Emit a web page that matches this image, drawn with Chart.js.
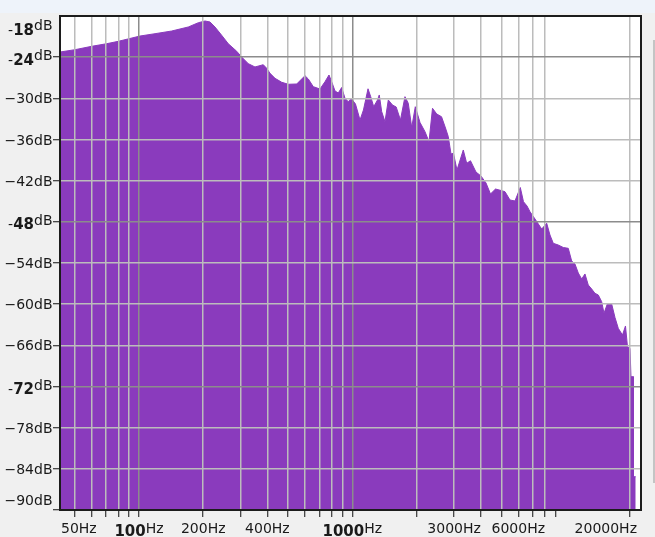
<!DOCTYPE html>
<html>
<head>
<meta charset="utf-8">
<script src="https://cdn.jsdelivr.net/npm/chart.js@4.4.1/dist/chart.umd.min.js"></script>
<style>
  html, body { margin: 0; padding: 0; background: #f0f0f0; }
  .wrap { position: relative; width: 655px; height: 537px; overflow: hidden; }
  .titlebar { position: absolute; left: 0; top: 0; width: 655px; height: 13px; background: #eef3fa; }
  .scroll { position: absolute; left: 653px; top: 40px; width: 2px; height: 443px; background: #c4c4c4; }
  canvas { position: absolute; left: 0; top: 0; }
</style>
</head>
<body>
<div class="wrap">
  <div class="titlebar"></div>
  <div class="scroll"></div>
  <canvas id="spectrum" width="655" height="537"></canvas>
</div>
<script>
// spectrum: frequency (Hz) and level (dB)
const freqs = [42.6, 50.1, 60.0, 70.5, 80.0, 89.8, 101.1, 118.9, 142.3, 170.3,
  189.7, 203.9, 215.2, 227.1, 244.1, 262.2, 287.1, 302.9, 325.4, 349.8,
  382.5, 396.9, 411.3, 434.2, 466.7, 501.1, 548.7, 579.1, 600.1, 621.9,
  656.3, 705.5, 744.7, 777.5, 800.6, 829.7, 859.6, 891.9, 924.3, 957.6,
  989.2, 1035, 1087, 1128, 1185, 1220, 1260, 1313, 1338, 1373,
  1423, 1475, 1543, 1606, 1682, 1766, 1830, 1899, 1974, 2077,
  2192, 2289, 2377, 2487, 2620, 2735, 2819, 2902, 2981, 3096,
  3314, 3438, 3582, 3801, 4011, 4235, 4445, 4692, 4979, 5199,
  5487, 5791, 6133, 6348, 6592, 6809, 7188, 7726, 8154, 8449,
  8756, 9241, 9754, 10294, 10680, 11066, 11468, 11896, 12327, 12774,
  13251, 13732, 14233, 14763, 15136, 15685, 16447, 17044, 17660, 18479,
  19089, 19507, 20040, 20256, 20770, 20813, 21316];
const levels = [-23.25, -22.91, -22.42, -22.04, -21.69, -21.31, -20.92, -20.58, -20.19, -19.60,
  -18.98, -18.73, -18.87, -19.60, -20.81, -22.04, -23.14, -23.98, -24.95, -25.43,
  -25.10, -25.62, -26.35, -27.08, -27.66, -27.95, -27.91, -27.18, -26.70, -27.18,
  -28.30, -28.64, -27.58, -26.60, -27.58, -28.93, -29.22, -28.42, -30.00, -30.49,
  -30.02, -30.83, -33.16, -31.70, -28.61, -29.76, -31.22, -30.24, -29.51, -31.92,
  -33.41, -30.24, -30.97, -31.26, -33.16, -29.76, -30.72, -34.25, -31.22, -33.52,
  -34.86, -36.32, -31.45, -32.28, -32.68, -34.32, -35.59, -38.11, -38.01, -40.45,
  -37.53, -39.47, -39.10, -40.74, -41.32, -42.34, -43.94, -43.22, -43.43, -43.61,
  -44.82, -44.96, -43.00, -45.07, -45.69, -46.52, -47.59, -49.05, -48.21, -49.92,
  -51.13, -51.38, -51.74, -51.86, -53.71, -54.15, -55.46, -56.33, -55.60, -57.21,
  -57.79, -58.42, -58.66, -59.64, -61.33, -59.98, -59.98, -61.94, -63.52, -64.50,
  -63.18, -66.20, -66.43, -70.57, -70.57, -85.15, -85.15];

// axes
const xTicksHz = [50, 60, 70, 80, 90, 100, 200, 300, 400, 500, 600, 700, 800, 900,
  1000, 2000, 3000, 4000, 5000, 6000, 7000, 8000, 9000, 20000];
const xLabelHz = [50, 100, 200, 400, 1000, 3000, 6000, 20000];
const xMajorHz = [100, 1000];
const xNoGridHz = [9000];
const yTicksDb = [-24, -30, -36, -42, -48, -54, -60, -66, -72, -78, -84, -90];
const yLabelDb = [-18, -24, -30, -36, -42, -48, -54, -60, -66, -72, -78, -84, -90];
const yMajorDb = [-18, -24, -48, -72];

const purple = '#8a3bbd';
const FONT = '"DejaVu Sans", sans-serif';
const textColor = '#1a1a1a';

const plotFrame = {
    id: 'plotFrame',
    beforeDraw(chart) {
        const { ctx, chartArea: a } = chart;
        ctx.save();
        ctx.fillStyle = '#ffffff';
        ctx.fillRect(a.left, a.top, a.right - a.left, a.bottom - a.top);
        ctx.restore();
    },
    afterDraw(chart) {
        const { ctx, chartArea: a, scales } = chart;
        ctx.save();
        ctx.strokeStyle = '#1c1c1c';
        ctx.lineWidth = 2;
        ctx.strokeRect(a.left, a.top, a.right - a.left, a.bottom - a.top);

        ctx.fillStyle = textColor;
        ctx.textBaseline = 'alphabetic';
        ctx.textAlign = 'left';

        // dB labels, right aligned against the tick marks
        const right = a.left - 7.5;
        yLabelDb.forEach(v => {
            let py = scales.y.getPixelForValue(v);
            py = Math.min(Math.max(py, a.top + 11), a.bottom - 10);
            if (yMajorDb.includes(v)) {
                const num = String(Math.abs(v));
                ctx.font = '14px ' + FONT;
                const wUnit = ctx.measureText('dB').width;
                const wDash = ctx.measureText('-').width;
                ctx.font = 'bold 15px ' + FONT;
                const wNum = ctx.measureText(num).width;
                let x = right - wUnit - wNum - wDash;
                ctx.font = '14px ' + FONT;
                ctx.fillText('-', x, py + 7.5);
                ctx.font = 'bold 15px ' + FONT;
                ctx.fillText(num, x + wDash, py + 7.5);
                ctx.font = '14px ' + FONT;
                ctx.fillText('dB', x + wDash + wNum, py + 3);
            } else {
                ctx.font = '14px ' + FONT;
                const txt = '\u2212' + Math.abs(v) + 'dB';
                const w = ctx.measureText(txt).width;
                ctx.fillText(txt, right - w, py + 5);
            }
        });

        // Hz labels, centred on the tick, kept inside the plot width
        xLabelHz.forEach(v => {
            const px = scales.x.getPixelForValue(v);
            const major = xMajorHz.includes(v);
            const num = String(v);
            ctx.font = (major ? 'bold 15px ' : '14px ') + FONT;
            const wNum = ctx.measureText(num).width;
            ctx.font = '14px ' + FONT;
            const wUnit = ctx.measureText('Hz').width;
            let x = px - (wNum + wUnit) / 2;
            x = Math.max(x, a.left + 1);
            x = Math.min(x, a.right - 4 - wNum - wUnit);
            ctx.font = (major ? 'bold 15px ' : '14px ') + FONT;
            ctx.fillText(num, x, major ? 536 : 533);
            ctx.font = '14px ' + FONT;
            ctx.fillText('Hz', x + wNum, 533);
        });
        ctx.restore();
    }
};

new Chart(document.getElementById('spectrum'), {
    type: 'line',
    data: {
        datasets: [{
            data: freqs.map((f, i) => ({ x: f, y: levels[i] })),
            fill: 'start',
            backgroundColor: purple,
            borderColor: purple,
            borderWidth: 1,
            pointRadius: 0,
            tension: 0,
        }]
    },
    options: {
        responsive: false,
        animation: false,
        layout: { padding: { top: 16, right: 14, left: 0, bottom: 0 } },
        plugins: {
            legend: { display: false },
            tooltip: { enabled: false },
        },
        scales: {
            x: {
                type: 'logarithmic',
                min: 42.62,
                max: 22570,
                afterBuildTicks: axis => { axis.ticks = xTicksHz.map(v => ({ value: v })); },
                afterFit: axis => { axis.height = 27; },
                ticks: { display: false },
                grid: {
                    z: 1,
                    lineWidth: 1.5,
                    color: c => xNoGridHz.includes(c.tick.value) ? 'rgba(0,0,0,0)'
                        : (xMajorHz.includes(c.tick.value) ? '#8c8c8c' : '#bcbcbc'),
                    tickColor: '#111111',
                    tickWidth: 1,
                    tickLength: 7,
                },
                border: { z: 2, color: '#1c1c1c', width: 2 },
            },
            y: {
                min: -90,
                max: -18,
                afterBuildTicks: axis => { axis.ticks = yTicksDb.map(v => ({ value: v })); },
                afterFit: axis => { axis.width = 60; },
                ticks: { display: false },
                grid: {
                    z: 1,
                    lineWidth: 1.5,
                    color: c => c.tick.value === -90 ? 'rgba(0,0,0,0)'
                        : (yMajorDb.includes(c.tick.value) ? '#8c8c8c' : '#bcbcbc'),
                    tickColor: '#111111',
                    tickWidth: 1,
                    tickLength: 7,
                },
                border: { z: 2, color: '#1c1c1c', width: 2 },
            },
        },
    },
    plugins: [plotFrame],
});
</script>
</body>
</html>
